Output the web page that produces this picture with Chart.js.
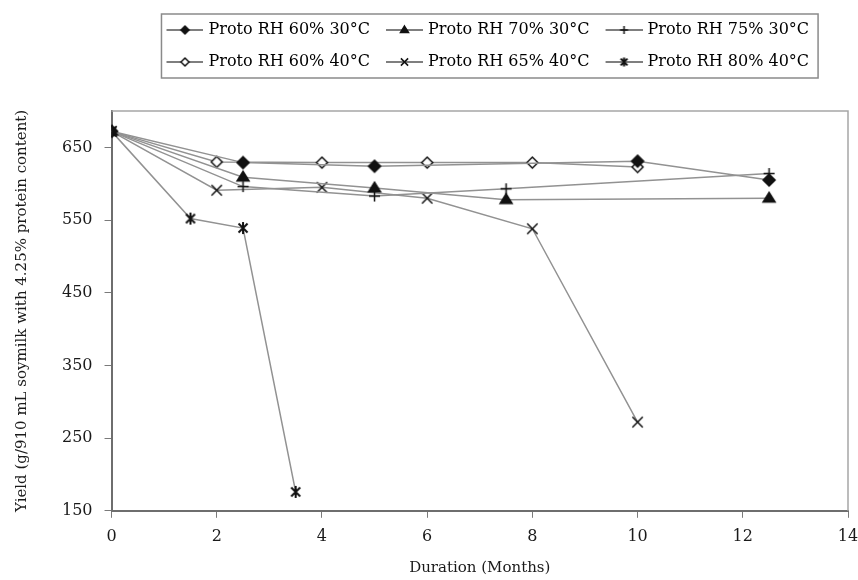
<!DOCTYPE html>
<html>
<head>
<meta charset="utf-8">
<script src="https://cdn.jsdelivr.net/npm/chart.js@4/dist/chart.umd.min.js"></script>
<style>
html,body{margin:0;padding:0;background:#fff;}
#wrap{width:858px;height:580px;}
</style>
</head>
<body>
<div id="wrap"><canvas id="c" width="858" height="580"></canvas></div>
<script>
// ---- data ----
const seriesNames = [
  'Proto RH 60% 30°C', 'Proto RH 70% 30°C', 'Proto RH 75% 30°C',
  'Proto RH 60% 40°C', 'Proto RH 65% 40°C', 'Proto RH 80% 40°C'
];
const rh60t30Months = [0, 2.5, 5, 10, 12.5];
const rh60t30Yield  = [672, 629, 624, 631, 605];
const rh70t30Months = [0, 2.5, 5, 7.5, 12.5];
const rh70t30Yield  = [672, 609, 594, 578, 580];
const rh75t30Months = [0, 2.5, 5, 7.5, 12.5];
const rh75t30Yield  = [672, 596, 583, 593, 614];
const rh60t40Months = [0, 2, 4, 6, 8, 10];
const rh60t40Yield  = [672, 630, 629, 629, 629, 623];
const rh65t40Months = [0, 2, 4, 6, 8, 10];
const rh65t40Yield  = [672, 591, 595, 580, 538, 272];
const rh80t40Months = [0, 1.5, 2.5, 3.5];
const rh80t40Yield  = [672, 552, 539, 176];
const xTicks = [0, 2, 4, 6, 8, 10, 12, 14];
const yTicks = [150, 250, 350, 450, 550, 650];
const xTitle = 'Duration (Months)';
const yTitle = 'Yield (g/910 mL soymilk with 4.25% protein content)';

// ---- styles ----
const FONT = "'DejaVu Serif', serif";
const LINE = '#929292';
const INK = '#111';
const TEXT = '#1a1a1a';

function drawMarker(ctx, kind, x, y, r) {
  ctx.save();
  ctx.strokeStyle = INK;
  ctx.fillStyle = INK;
  ctx.lineWidth = 1.5;
  ctx.beginPath();
  if (kind === 'diamond' || kind === 'odiamond') {
    ctx.moveTo(x - r, y); ctx.lineTo(x, y - r); ctx.lineTo(x + r, y); ctx.lineTo(x, y + r); ctx.closePath();
    ctx.fillStyle = kind === 'odiamond' ? '#fff' : INK;
    ctx.fill(); ctx.stroke();
  } else if (kind === 'triangle') {
    const h = r * 1.6;
    ctx.moveTo(x, y - h * 0.62); ctx.lineTo(x + r, y + h * 0.38); ctx.lineTo(x - r, y + h * 0.38); ctx.closePath();
    ctx.fill(); ctx.stroke();
  } else if (kind === 'plus') {
    ctx.moveTo(x - r, y); ctx.lineTo(x + r, y); ctx.moveTo(x, y - r); ctx.lineTo(x, y + r);
    ctx.stroke();
  } else if (kind === 'x') {
    const d = r * 0.8;
    ctx.moveTo(x - d, y - d); ctx.lineTo(x + d, y + d); ctx.moveTo(x + d, y - d); ctx.lineTo(x - d, y + d);
    ctx.stroke();
  } else if (kind === 'star') {
    const d = r * 0.75;
    ctx.lineWidth = 2;
    ctx.moveTo(x - d, y - d); ctx.lineTo(x + d, y + d); ctx.moveTo(x + d, y - d); ctx.lineTo(x - d, y + d);
    ctx.moveTo(x, y - r); ctx.lineTo(x, y + r);
    ctx.stroke();
  }
  ctx.restore();
}

function markerCanvas(kind, r) {
  const s = Math.ceil(r * 2 + 6);
  const cv = document.createElement('canvas');
  cv.width = s; cv.height = s;
  drawMarker(cv.getContext('2d'), kind, s / 2, s / 2, r);
  return cv;
}

function legendCanvas(kind) {
  const cv = document.createElement('canvas');
  cv.width = 40; cv.height = 14;
  const ctx = cv.getContext('2d');
  ctx.strokeStyle = '#555';
  ctx.lineWidth = 1.5;
  ctx.beginPath(); ctx.moveTo(3, 7); ctx.lineTo(40, 7); ctx.stroke();
  drawMarker(ctx, kind, 21.5, 7, kind === 'x' || kind === 'star' ? 4.5 : 4);
  return cv;
}

const kinds = ['diamond', 'triangle', 'plus', 'odiamond', 'x', 'star'];
const sizes = [6, 6, 5.5, 5.5, 6.5, 6];
const monthsList = [rh60t30Months, rh70t30Months, rh75t30Months, rh60t40Months, rh65t40Months, rh80t40Months];
const yieldList = [rh60t30Yield, rh70t30Yield, rh75t30Yield, rh60t40Yield, rh65t40Yield, rh80t40Yield];

const datasets = seriesNames.map((name, i) => ({
  label: name,
  data: monthsList[i].map((m, j) => ({ x: m, y: yieldList[i][j] })),
  borderColor: LINE,
  borderWidth: 1.5,
  backgroundColor: INK,
  pointStyle: markerCanvas(kinds[i], sizes[i]),
  pointRadius: sizes[i],
  pointHoverRadius: sizes[i],
  tension: 0,
  fill: false
}));
const legendImgs = kinds.map(k => legendCanvas(k));

const framePlugin = {
  id: 'frame',
  afterInit(chart) {
    const lg = chart.legend;
    if (lg && !lg._patched) {
      const orig = lg.fit.bind(lg);
      lg.fit = function () { orig(); if (this.options.display) this.height = 105; };
      lg._patched = true;
    }
  },
  afterLayout(chart) {
    const lg = chart.legend;
    if (lg) { lg.left += 8; lg.right += 8; }
  },
  beforeDatasetsDraw(chart) {
    const a = chart.chartArea, ctx = chart.ctx;
    ctx.save();
    ctx.strokeStyle = '#a6a6a6';
    ctx.lineWidth = 1.5;
    ctx.beginPath();
    ctx.moveTo(a.left, a.top); ctx.lineTo(a.right, a.top); ctx.lineTo(a.right, a.bottom);
    ctx.stroke();
    ctx.restore();
  },
  afterDraw(chart) {
    const hb = chart.legend && chart.legend.legendHitBoxes;
    if (!hb || !hb.length) return;
    let l = Infinity, r = -Infinity, t = Infinity, b = -Infinity;
    hb.forEach(h => { l = Math.min(l, h.left); r = Math.max(r, h.left + h.width); t = Math.min(t, h.top); b = Math.max(b, h.top + h.height); });
    const ctx = chart.ctx;
    ctx.save();
    ctx.strokeStyle = '#8a8a8a';
    ctx.lineWidth = 1.5;
    ctx.strokeRect(l - 5, t - 8, (r - l) + 14, (b - t) + 16);
    ctx.restore();
  }
};

new Chart(document.getElementById('c'), {
  type: 'line',
  data: { datasets },
  plugins: [framePlugin],
  options: {
    responsive: false,
    animation: false,
    events: [],
    layout: { padding: { top: 6, left: 13, right: 10, bottom: 3 } },
    plugins: {
      tooltip: { enabled: false },
      legend: {
        position: 'top',
        fullSize: false,
        align: 'center',
        labels: {
          usePointStyle: true,
          pointStyleWidth: 34,
          padding: 16,
          color: TEXT,
          font: { family: FONT, size: 16 },
          generateLabels: (chart) => seriesNames.map((n, i) => ({
            text: n,
            pointStyle: legendImgs[i],
            fillStyle: INK,
            strokeStyle: INK,
            lineWidth: 0,
            hidden: false,
            datasetIndex: i
          }))
        }
      }
    },
    scales: {
      x: {
        type: 'linear',
        min: 0, max: 14,
        afterBuildTicks: (s) => { s.ticks = xTicks.map(v => ({ value: v })); },
        afterFit: (s) => { s.paddingLeft = 0; s.paddingRight = 0; },
        ticks: { color: TEXT, font: { family: FONT, size: 16 }, padding: 9, maxRotation: 0 },
        grid: { drawOnChartArea: false, drawTicks: true, tickLength: 7, color: '#7a7a7a', lineWidth: 1 },
        border: { display: true, color: '#6e6e6e', width: 2 },
        title: { display: true, text: xTitle, color: TEXT, font: { family: FONT, size: 15 }, padding: { top: 4, bottom: 0 } }
      },
      y: {
        type: 'linear',
        min: 150, max: 700,
        afterBuildTicks: (s) => { s.ticks = yTicks.map(v => ({ value: v })); },
        ticks: { color: TEXT, font: { family: FONT, size: 16 }, padding: 12 },
        grid: { drawOnChartArea: false, drawTicks: true, tickLength: 7, color: '#7a7a7a', lineWidth: 1 },
        border: { display: true, color: '#6e6e6e', width: 2 },
        title: { display: true, text: yTitle, color: TEXT, font: { family: FONT, size: 15 }, padding: { top: 0, bottom: 19 } }
      }
    }
  }
});
</script>
</body>
</html>
